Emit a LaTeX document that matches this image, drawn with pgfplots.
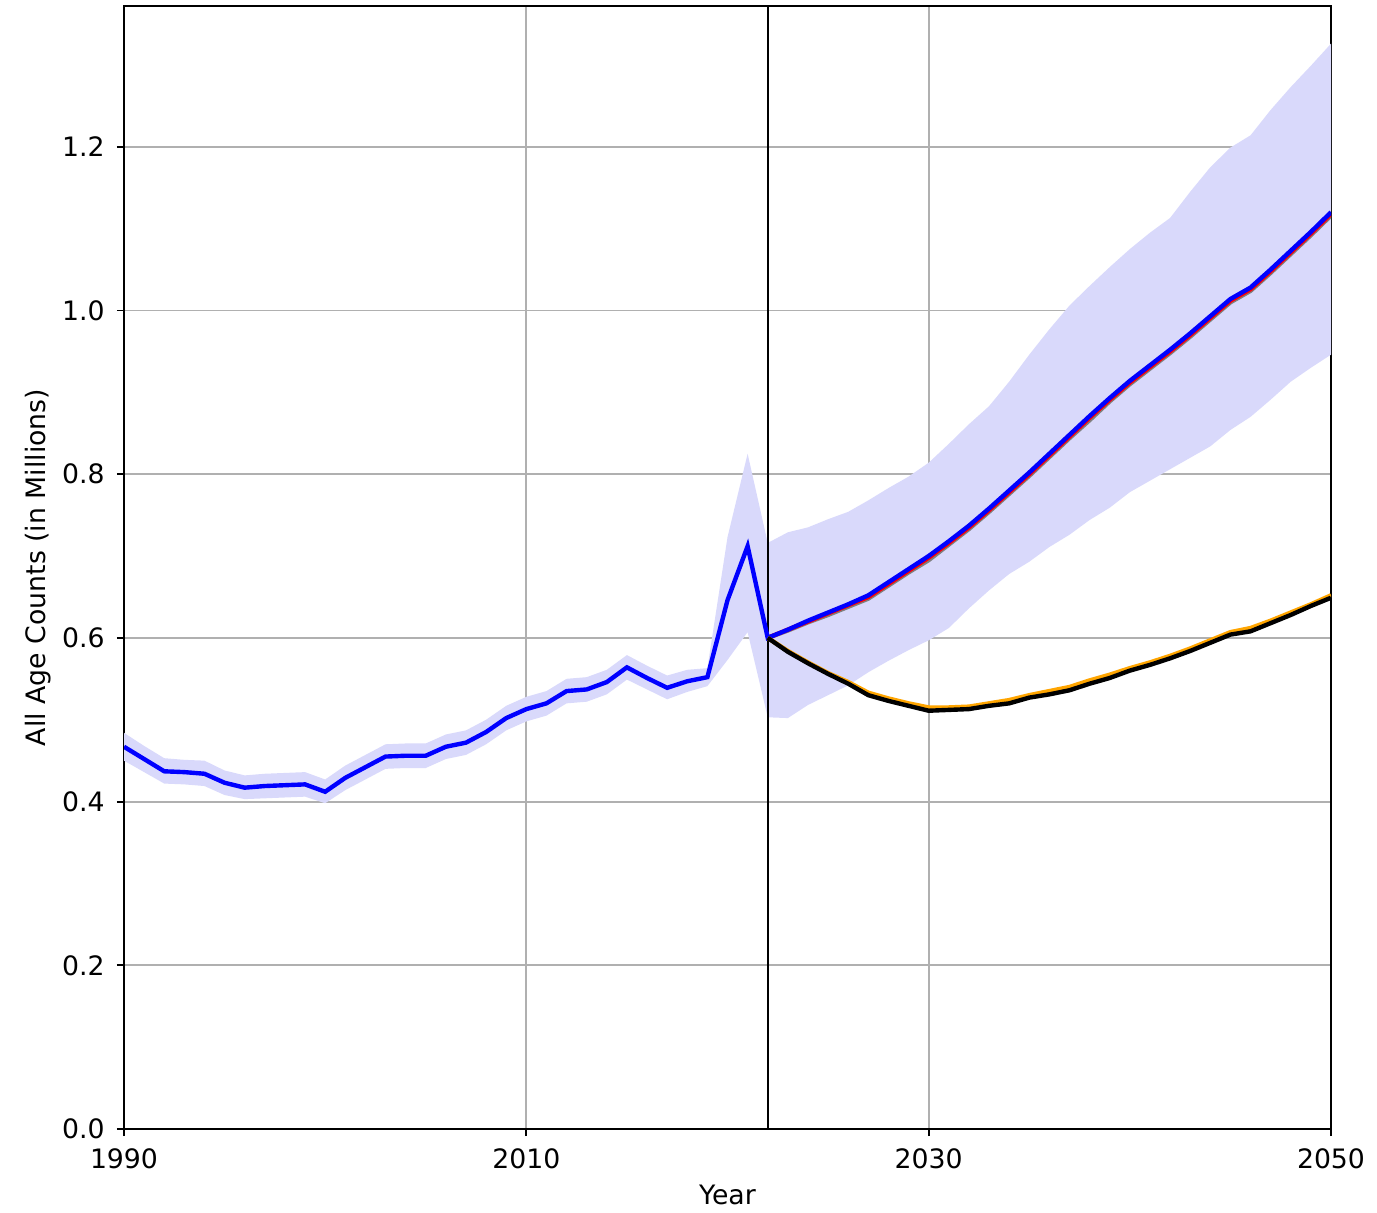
\documentclass[border=0pt]{standalone}
\usepackage{fontspec}
\setmainfont{DejaVu Sans}
\usepackage{pgfplots}
\pgfplotsset{compat=1.18}
\usepgfplotslibrary{fillbetween}

% historical + central projection with its band
\pgfplotstableread{
year val lo hi
1990 0.467 0.450 0.484
1991 0.452 0.436 0.468
1992 0.437 0.422 0.453
1993 0.436 0.421 0.451
1994 0.434 0.419 0.450
1995 0.423 0.408 0.438
1996 0.417 0.403 0.432
1997 0.419 0.404 0.434
1998 0.420 0.405 0.435
1999 0.421 0.406 0.436
2000 0.412 0.398 0.427
2001 0.429 0.414 0.444
2002 0.442 0.427 0.457
2003 0.455 0.440 0.470
2004 0.456 0.441 0.471
2005 0.456 0.441 0.471
2006 0.467 0.452 0.482
2007 0.472 0.457 0.487
2008 0.485 0.470 0.500
2009 0.502 0.487 0.517
2010 0.513 0.498 0.528
2011 0.520 0.505 0.535
2012 0.535 0.520 0.550
2013 0.537 0.522 0.552
2014 0.546 0.531 0.561
2015 0.564 0.549 0.579
2016 0.551 0.537 0.566
2017 0.539 0.525 0.554
2018 0.547 0.534 0.561
2019 0.552 0.541 0.563
2020 0.646 0.573 0.723
2021 0.712 0.607 0.825
2022 0.600 0.503 0.716
2023 0.610 0.502 0.729
2024 0.621 0.518 0.735
2025 0.631 0.530 0.745
2026 0.641 0.542 0.754
2027 0.652 0.558 0.768
2028 0.668 0.572 0.783
2029 0.684 0.585 0.797
2030 0.700 0.597 0.814
2031 0.718 0.612 0.837
2032 0.737 0.636 0.861
2033 0.758 0.658 0.883
2034 0.780 0.678 0.913
2035 0.802 0.693 0.946
2036 0.825 0.711 0.977
2037 0.848 0.726 1.006
2038 0.871 0.744 1.030
2039 0.893 0.759 1.053
2040 0.914 0.778 1.075
2041 0.933 0.792 1.095
2042 0.952 0.806 1.113
2043 0.972 0.820 1.145
2044 0.993 0.834 1.175
2045 1.014 0.854 1.199
2046 1.028 0.870 1.214
2047 1.050 0.891 1.245
2048 1.073 0.913 1.273
2049 1.096 0.930 1.299
2050 1.120 0.946 1.326
}\central

% other projections from 2022
\pgfplotstableread{
year grey red orange black
2022 0.600 0.600 0.600 0.600
2023 0.609 0.610 0.584 0.583
2024 0.619 0.620 0.570 0.569
2025 0.628 0.630 0.557 0.556
2026 0.638 0.640 0.546 0.544
2027 0.648 0.650 0.533 0.530
2028 0.664 0.666 0.526 0.523
2029 0.680 0.682 0.520 0.517
2030 0.695 0.698 0.515 0.511
2031 0.714 0.716 0.515 0.512
2032 0.733 0.735 0.516 0.513
2033 0.754 0.756 0.520 0.517
2034 0.776 0.778 0.524 0.520
2035 0.798 0.800 0.530 0.527
2036 0.821 0.823 0.535 0.531
2037 0.844 0.846 0.540 0.536
2038 0.866 0.869 0.548 0.544
2039 0.889 0.891 0.555 0.551
2040 0.910 0.912 0.563 0.560
2041 0.929 0.931 0.570 0.567
2042 0.948 0.950 0.578 0.575
2043 0.968 0.970 0.587 0.584
2044 0.989 0.991 0.597 0.594
2045 1.010 1.012 0.607 0.604
2046 1.024 1.026 0.612 0.608
2047 1.046 1.048 0.621 0.618
2048 1.069 1.071 0.631 0.628
2049 1.092 1.094 0.641 0.639
2050 1.116 1.118 0.652 0.649
}\scenarios

\definecolor{band}{RGB}{217,217,251}
\definecolor{gridgrey}{RGB}{176,176,176}
\definecolor{mplgrey}{RGB}{128,128,128}
\definecolor{mplorange}{RGB}{255,165,0}

\begin{document}
\begin{tikzpicture}
\begin{axis}[
    scale only axis,
    width=120.7mm, height=112.3mm,
    xmin=1990, xmax=2050,
    ymin=0, ymax=1.372,
    xtick={1990,2010,2030,2050},
    ytick={0,0.2,0.4,0.6,0.8,1.0,1.2},
    xtick pos=bottom, ytick pos=left,
    /pgf/number format/assume math mode=true,
    xticklabel style={/pgf/number format/1000 sep={}},
    yticklabel style={/pgf/number format/.cd, fixed, fixed zerofill, precision=1},
    grid=major,
    grid style={gridgrey, line width=0.55pt},
    tick align=outside,
    major tick length=2pt,
    tick style={black, line width=0.55pt},
    axis line style={line width=0.6pt},
    ticklabel style={font=\fontsize{7.6}{9}\selectfont},
    label style={font=\fontsize{7.6}{9}\selectfont},
    xlabel={Year},
    xlabel style={yshift=0.8mm},
    ylabel={All Age Counts (in Millions)},
    ylabel style={yshift=-1.3mm},
]
\addplot[name path=up, draw=none, forget plot] table[x=year, y=hi] {\central};
\addplot[name path=low, draw=none, forget plot] table[x=year, y=lo] {\central};
\addplot[band, draw=none] fill between[of=up and low];

\addplot[black, line width=0.6pt] coordinates {(2022,0) (2022,1.372)};

\addplot[mplgrey, line width=1.25pt] table[x=year, y=grey] {\scenarios};
\addplot[red, line width=1.25pt] table[x=year, y=red] {\scenarios};
\addplot[blue, line width=1.25pt] table[x=year, y=val] {\central};
\addplot[mplorange, line width=1.25pt] table[x=year, y=orange] {\scenarios};
\addplot[black, line width=1.25pt] table[x=year, y=black] {\scenarios};
\end{axis}
\pgfresetboundingbox
\path ([xshift=-12.4mm,yshift=-8.4mm]current axis.south west) rectangle ([xshift=4.6mm,yshift=0.6mm]current axis.north east);
\end{tikzpicture}
\end{document}
